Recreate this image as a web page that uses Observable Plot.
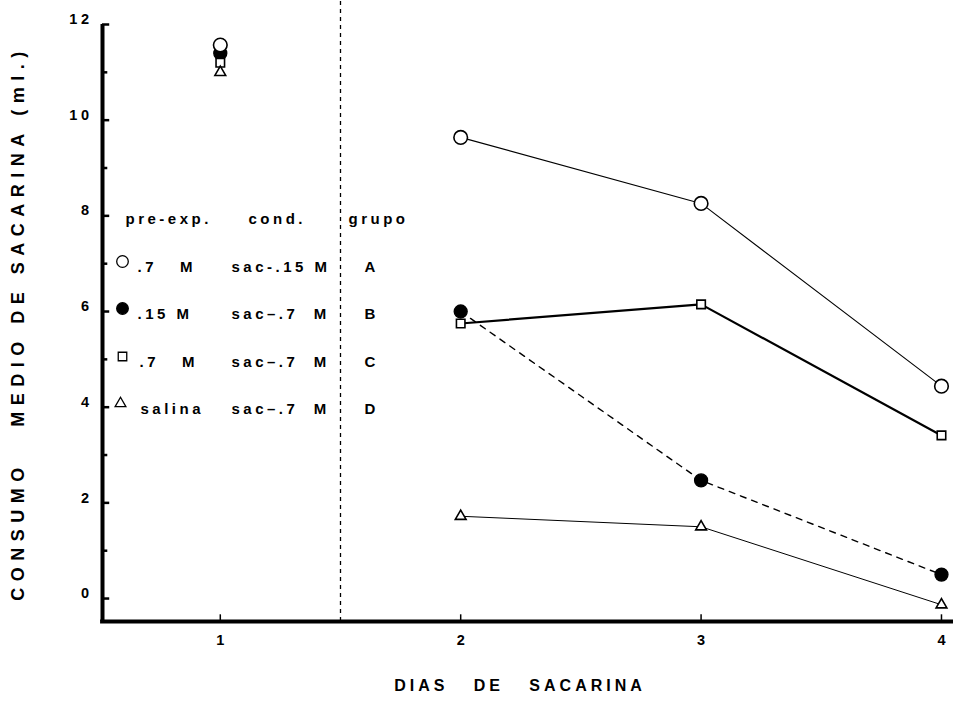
<!DOCTYPE html>
<html>
<head>
<meta charset="utf-8">
<script src="https://cdn.jsdelivr.net/npm/d3@7"></script>
<script src="https://cdn.jsdelivr.net/npm/@observablehq/plot@0.6"></script>
<style>
  body { margin: 0; background: #fff; }
</style>
</head>
<body>
<div id="chart"></div>
<script>
// ---- data ----
const days = [1, 2, 3, 4];
const groupA = [11.57, 9.64, 8.26, 4.44];
const groupB = [11.40, 6.00, 2.47, 0.50];
const groupC = [11.20, 5.75, 6.15, 3.41];
const groupD = [11.00, 1.72, 1.50, -0.13];

const yMinorTicks = [0, 1, 2, 3, 4, 5, 6, 7, 8, 9, 10, 11, 12];
const yTickLabels = [0, 2, 4, 6, 8, 10, 12];
const xTickLabels = [1, 2, 3, 4];
const separatorDay = [1.5];

const legendHeader = ["pre-exp.", "cond.", "grupo"];
const legendPre = [".7\u00a0\u00a0\u00a0M", ".15\u00a0M", ".7\u00a0\u00a0\u00a0M", "salina"];
const legendCond = ["sac-.15\u00a0M", "sac\u2013.7\u00a0\u00a0M", "sac\u2013.7\u00a0\u00a0M", "sac\u2013.7\u00a0\u00a0M"];
const legendGroup = ["A", "B", "C", "D"];

const yTitle = "CONSUMO\u00a0\u00a0\u00a0MEDIO\u00a0DE\u00a0SACARINA\u00a0(ml.)";
const xTitle = "DIAS\u00a0\u00a0\u00a0DE\u00a0\u00a0\u00a0SACARINA";

// ---- layout / styles ----
const W = 953, H = 702;
const mL = 102, mT = 24;
const xDomain = [0.51, 4.05];
const yDomain = [-0.48, 12];

const series = [
  {values: groupB, symbol: "circle", fill: "black", r: 6.5, sw: 1.3, dash: "6,6", lw: 1.4},
  {values: groupA, symbol: "circle", fill: "white", r: 6.8, sw: 1.6, dash: null, lw: 1.1},
  {values: groupC, symbol: "square", fill: "white", r: 4.8, sw: 1.6, dash: null, lw: 2.2},
  {values: groupD, symbol: "triangle", fill: "white", r: 4.0, sw: 1.6, dash: null, lw: 1.0}
];

const rows = series.map(s => days.map((d, i) => ({day: d, value: s.values[i]})));

const marks = [];

// separator dashed line
marks.push(Plot.ruleX(separatorDay, {y1: yDomain[0], y2: 12.55, stroke: "black", strokeWidth: 1.3, strokeDasharray: "4,4"}));

// axes lines
marks.push(Plot.ruleX([xDomain[0]], {y1: yDomain[0], y2: 12, stroke: "black", strokeWidth: 4}));
marks.push(Plot.ruleY([yDomain[0]], {x1: xDomain[0] - 0.008, x2: xDomain[1], stroke: "black", strokeWidth: 4}));

// y ticks (inward nubs)
marks.push(Plot.ruleY(yMinorTicks, {y: d => d, x1: xDomain[0], x2: d => xDomain[0] + (d % 2 === 0 ? 0.03 : 0.022), stroke: "black", strokeWidth: 2.5}));
// x ticks (small upward)
marks.push(Plot.ruleX(xTickLabels, {x: d => d, y1: yDomain[0], y2: yDomain[0] + 0.14, stroke: "black", strokeWidth: 1.5}));

// lines (days 2-4)
series.forEach((s, k) => {
  marks.push(Plot.line(rows[k].slice(1), {x: "day", y: "value", stroke: "black", strokeWidth: s.lw, strokeDasharray: s.dash}));
});
// dots
series.forEach((s, k) => {
  marks.push(Plot.dot(rows[k], {x: "day", y: "value", symbol: () => s.symbol, r: s.r, fill: s.fill, stroke: "black", strokeWidth: s.sw}));
});

// axis tick labels
marks.push(Plot.axisY({ticks: yTickLabels, tickSize: 0, tickPadding: 10, dy: -5, fontSize: 14.5, fontWeight: "bold", tickFormat: "d", ariaDescription: "ytl"}));
marks.push(Plot.axisX({ticks: xTickLabels, tickSize: 0, tickPadding: 13, fontSize: 14.5, fontWeight: "bold", tickFormat: "d"}));

// axis titles
marks.push(Plot.text([yTitle], {text: d => d, frameAnchor: "left", textAnchor: "middle", rotate: -90, dx: -84, dy: 0, fontSize: 18, fontWeight: "bold", ariaDescription: "ylabel"}));
marks.push(Plot.text([xTitle], {text: d => d, frameAnchor: "bottom", textAnchor: "middle", dx: -8, dy: 69, fontSize: 16, fontWeight: "bold", ariaDescription: "xlabel"}));

// legend (inside plot, top-left anchored)
const headerX = [125, 248, 348];
const headerY = 213;
legendHeader.forEach((t, j) => {
  marks.push(Plot.text([t], {text: d => d, frameAnchor: "top-left", textAnchor: "start", dx: headerX[j] - mL, dy: headerY - mT, fontSize: 15, fontWeight: "bold", ariaDescription: "legend"}));
});
const rowY = [261, 308, 356, 403];
const symX = [122, 122, 122, 120];
const preX = [137, 137, 139, 140];
series.forEach((s, k) => {
  const i = [1, 0, 2, 3][k]; // series order B,A,C,D -> legend row
  marks.push(Plot.dot([0], {frameAnchor: "top-left", dx: symX[i] - mL, dy: rowY[i] - mT, symbol: s.symbol, r: s.symbol === "circle" ? 5.8 : s.r, fill: s.fill, stroke: "black", strokeWidth: 1.3}));
});
legendPre.forEach((t, i) => {
  marks.push(Plot.text([t], {text: d => d, frameAnchor: "top-left", textAnchor: "start", dx: preX[i] - mL, dy: rowY[i] - mT, fontSize: 15, fontWeight: "bold", ariaDescription: "legend"}));
  marks.push(Plot.text([legendCond[i]], {text: d => d, frameAnchor: "top-left", textAnchor: "start", dx: 231 - mL, dy: rowY[i] - mT, fontSize: 15, fontWeight: "bold", ariaDescription: "legend"}));
  marks.push(Plot.text([legendGroup[i]], {text: d => d, frameAnchor: "top-left", textAnchor: "start", dx: 364 - mL, dy: rowY[i] - mT, fontSize: 15, fontWeight: "bold", ariaDescription: "legend"}));
});

const chart = Plot.plot({
  width: W,
  height: H,
  marginLeft: mL,
  marginRight: 0,
  marginTop: mT,
  marginBottom: H - 621,
  x: {domain: xDomain, label: null},
  y: {domain: yDomain, label: null},
  style: {fontFamily: "'Liberation Sans', Arial, sans-serif", fontSize: "14px", fontWeight: "bold", color: "black", background: "white", overflow: "visible"},
  marks
});

// letter spacing (typographic style only)
const spacing = {ylabel: "6.5px", xlabel: "4px", legend: "3.5px", ytl: "3.5px"};
d3.select(chart).selectAll("g[aria-description]").each(function () {
  const key = this.getAttribute("aria-description");
  if (spacing[key]) d3.select(this).selectAll("text").style("letter-spacing", spacing[key]);
});
document.getElementById("chart").appendChild(chart);
</script>
</body>
</html>
